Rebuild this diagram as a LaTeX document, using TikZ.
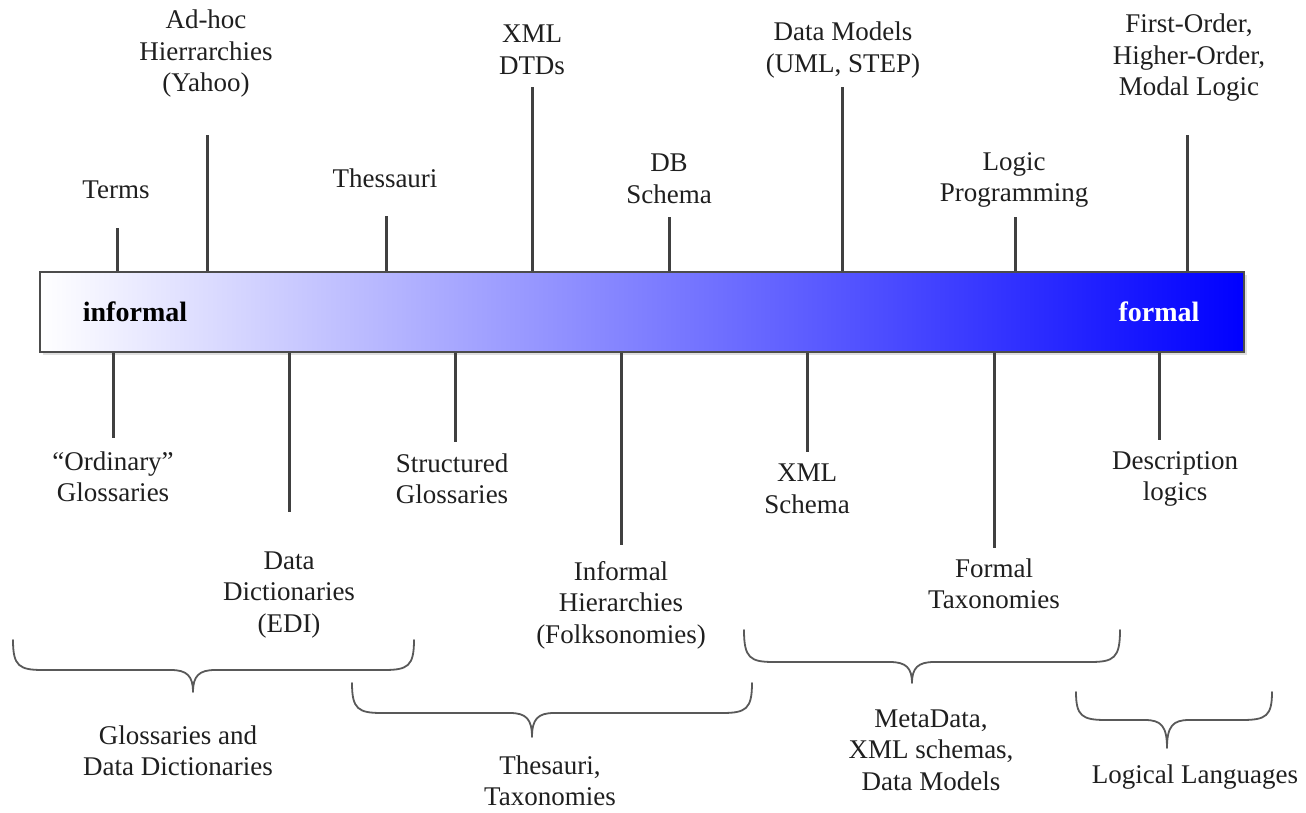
\documentclass[tikz,border=0pt]{standalone}
\usepackage{fontspec}
\setmainfont{Liberation Serif}
\newfontfamily\timesfont{Liberation Serif}
\usetikzlibrary{shadows}

% curly brace opening upwards: x-left, x-right, x-tip, y-top, y-flat, y-tip
\newcommand\curlybrace[6]{%
  \draw[curly] (#1,#4) .. controls (#1,#5-4) and (#1+6,#5) .. (#1+30,#5)
    -- (#3-22,#5) .. controls (#3-6,#5) and (#3,#5+6) .. (#3,#6)
    .. controls (#3,#5+6) and (#3+6,#5) .. (#3+22,#5)
    -- (#2-30,#5) .. controls (#2-6,#5) and (#2,#5-4) .. (#2,#4);}

\begin{document}
\begin{tikzpicture}[x=1pt,y=-1pt,
  lbl/.style={align=center, font=\timesfont\fontsize{27}{31.5}\selectfont, text=black!88, inner sep=0pt},
  endlbl/.style={font=\timesfont\bfseries\fontsize{28}{30}\selectfont, inner sep=0pt},
  tick/.style={draw=black!75, line width=3pt},
  curly/.style={draw=black!65, line width=1.8pt, line join=round, line cap=round}]
\useasboundingbox (0,0) rectangle (1306,812);

% the formality scale
\node[draw=black!70, line width=1.5pt, minimum width=1204pt, minimum height=80pt,
      inner sep=0pt, left color=white, right color=blue,
      drop shadow={shadow xshift=3pt, shadow yshift=-3pt, opacity=0.25}] (bar) at (642,312) {};
\node[endlbl] (inf) at (135,312) {informal};
\node[endlbl, text=white] (frm) at (1159,312) {formal};

% labels above the scale
\node[lbl] (terms) at (116,190) {Terms};
\node[lbl] (adhoc) at (206,54) {Ad-hoc\\Hierrarchies\\(Yahoo)};
\node[lbl] (thess) at (385,178) {Thessauri};
\node[lbl] (dtd) at (532,50) {XML\\DTDs};
\node[lbl] (dbs) at (669,179) {DB\\Schema};
\node[lbl] (dm) at (843,50) {Data Models\\(UML, STEP)};
\node[lbl] (lp) at (1014,180) {Logic\\Programming};
\node[lbl] (fol) at (1189,58) {First-Order,\\Higher-Order,\\Modal Logic};

% labels below the scale
\node[lbl] (ogl) at (113,477) {“Ordinary”\\Glossaries};
\node[lbl] (dd) at (289,595) {Data\\Dictionaries\\(EDI)};
\node[lbl] (sgl) at (452,479) {Structured\\Glossaries};
\node[lbl] (ih) at (621,605) {Informal\\Hierarchies\\(Folksonomies)};
\node[lbl] (xsd) at (807,489) {XML\\Schema};
\node[lbl] (ftx) at (994,584) {Formal\\Taxonomies};
\node[lbl] (dl) at (1175,479) {Description\\logics};

% tick ends
\coordinate (cTerms) at (117,228);
\coordinate (cAdhoc) at (207,135);
\coordinate (cThess) at (386,216);
\coordinate (cDtd) at (532,87);
\coordinate (cDbs) at (669,217);
\coordinate (cDm) at (842,87);
\coordinate (cLp) at (1015,217);
\coordinate (cFol) at (1187,135);
\coordinate (cOgl) at (113,438);
\coordinate (cDd) at (289,512);
\coordinate (cSgl) at (455,442);
\coordinate (cIh) at (621,545);
\coordinate (cXsd) at (807,452);
\coordinate (cFtx) at (994,548);
\coordinate (cDl) at (1159,440);

\foreach \c in {cTerms,cAdhoc,cThess,cDtd,cDbs,cDm,cLp,cFol}
  \draw[tick] (bar.north -| \c) -- (\c);
\foreach \c in {cOgl,cDd,cSgl,cIh,cXsd,cFtx,cDl}
  \draw[tick] (bar.south -| \c) -- (\c);

% groupings
\curlybrace{13}{414}{193}{640}{670}{692}
\curlybrace{352}{752}{532}{683}{713}{737}
\curlybrace{744}{1120}{912}{630}{662}{683}
\curlybrace{1076}{1272}{1167}{692}{720}{748}

\node[lbl] (g1) at (178,751) {Glossaries and\\Data Dictionaries};
\node[lbl] (g2) at (550,781) {Thesauri,\\Taxonomies};
\node[lbl] (g3) at (931,750) {MetaData,\\XML schemas,\\Data Models};
\node[lbl] (g4) at (1195,777) {Logical Languages};
\end{tikzpicture}
\end{document}
